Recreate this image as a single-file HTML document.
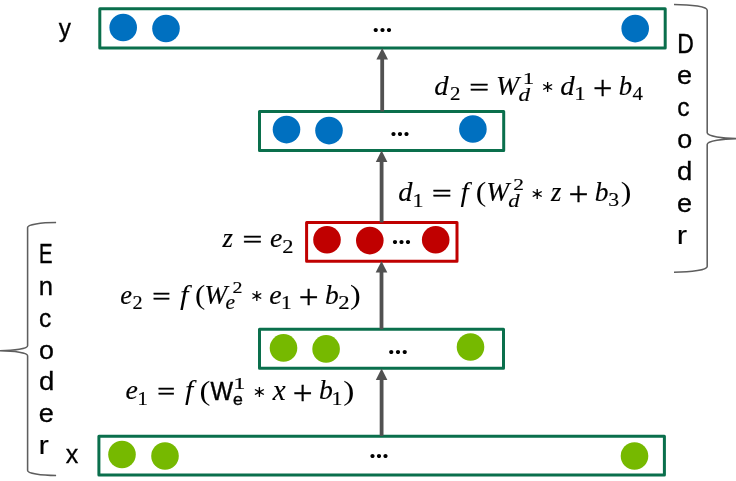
<!DOCTYPE html>
<html lang="en"><head><meta charset="utf-8"><title>Autoencoder</title>
<style>
html,body{margin:0;padding:0;background:#fff;}
body{width:736px;height:481px;overflow:hidden;}
svg{display:block;will-change:transform;}
text{fill:#000;}
.si{font-family:"Liberation Serif",serif;font-style:italic;font-weight:normal;}
.sr{font-family:"Liberation Serif",serif;font-style:normal;font-weight:normal;}
.ss{font-family:"Liberation Sans",sans-serif;font-style:normal;font-weight:normal;}
.sb{font-family:"Liberation Sans",sans-serif;font-style:normal;font-weight:bold;}
.sB{font-family:"Liberation Serif",serif;font-style:normal;font-weight:bold;}
.dj{font-family:"DejaVu Sans",sans-serif;font-style:normal;font-weight:normal;}
</style></head>
<body>
<svg width="736" height="481" viewBox="0 0 736 481">
<rect x="0" y="0" width="736" height="481" fill="#fff"/>
<rect x="99.8" y="8.85" width="565.40" height="39.05" fill="#fff" stroke="#0a6f4c" stroke-width="3.0" stroke-linejoin="round"/>
<rect x="259.5" y="111.5" width="244.20" height="39.00" fill="#fff" stroke="#0a6f4c" stroke-width="3.0" stroke-linejoin="round"/>
<rect x="306.6" y="222.4" width="150.40" height="38.90" fill="#fff" stroke="#c00000" stroke-width="3.0" stroke-linejoin="round"/>
<rect x="259.5" y="329.2" width="244.00" height="39.10" fill="#fff" stroke="#0a6f4c" stroke-width="3.0" stroke-linejoin="round"/>
<rect x="98.9" y="436.2" width="565.50" height="38.80" fill="#fff" stroke="#0a6f4c" stroke-width="3.0" stroke-linejoin="round"/>
<circle cx="123.2" cy="27.5" r="13.8" fill="#0070c0"/>
<circle cx="166" cy="28.5" r="13.8" fill="#0070c0"/>
<circle cx="635.2" cy="28.6" r="13.8" fill="#0070c0"/>
<circle cx="286.5" cy="129.6" r="13.8" fill="#0070c0"/>
<circle cx="329" cy="130.6" r="13.8" fill="#0070c0"/>
<circle cx="472.9" cy="129.0" r="13.8" fill="#0070c0"/>
<circle cx="327" cy="239.7" r="13.8" fill="#c00000"/>
<circle cx="369.8" cy="240.6" r="13.8" fill="#c00000"/>
<circle cx="435.7" cy="239.7" r="13.8" fill="#c00000"/>
<circle cx="283.5" cy="347.9" r="13.8" fill="#76b900"/>
<circle cx="326.1" cy="348.9" r="13.8" fill="#76b900"/>
<circle cx="470.5" cy="347.0" r="13.8" fill="#76b900"/>
<circle cx="122" cy="454.5" r="13.8" fill="#76b900"/>
<circle cx="165" cy="456" r="13.8" fill="#76b900"/>
<circle cx="634.5" cy="456" r="13.8" fill="#76b900"/>
<rect x="380.30" y="58.50" width="3.8" height="53.00" fill="#515151"/>
<polygon points="382.20,48.00 388.00,59.50 376.40,59.50" fill="#515151"/>
<rect x="379.70" y="160.90" width="3.8" height="61.50" fill="#515151"/>
<polygon points="381.60,150.40 387.40,161.90 375.80,161.90" fill="#515151"/>
<rect x="379.60" y="271.50" width="3.8" height="57.70" fill="#515151"/>
<polygon points="381.50,261.00 387.30,272.50 375.70,272.50" fill="#515151"/>
<rect x="379.70" y="378.90" width="3.8" height="57.00" fill="#515151"/>
<polygon points="381.60,368.40 387.40,379.90 375.80,379.90" fill="#515151"/>
<text class="sB" font-size="25.91" x="372.56 379.21 385.86" y="31.73">...</text>
<text class="sB" font-size="25.91" x="390.26 396.76 403.26" y="135.93">...</text>
<text class="sB" font-size="25.91" x="391.86 398.36 404.86" y="243.93">...</text>
<text class="sB" font-size="25.91" x="388.06 394.76 401.46" y="353.53">...</text>
<text class="sB" font-size="25.91" x="369.36 375.86 382.36" y="457.73">...</text>
<path d="M674.00 4.40 A33.20 5.8 0 0 1 707.20 10.20 L707.20 132.80 A33.20 5.8 0 0 0 740.40 138.60 A33.20 5.8 0 0 0 707.20 144.40 L707.20 266.50 A33.20 5.8 0 0 1 674.00 272.30" fill="none" stroke="#5e5e5e" stroke-width="1.55"/>
<path d="M56.10 222.50 A28.50 5 0 0 0 27.60 227.50 L27.60 345.70 A28.50 5 0 0 1 -0.90 350.70 A28.50 5 0 0 1 27.60 355.70 L27.60 470.50 A28.50 5 0 0 0 56.10 475.50" fill="none" stroke="#5e5e5e" stroke-width="1.55"/>
<text><tspan class="ss" x="677.22" y="52.70" font-size="27.04" textLength="16.58" lengthAdjust="spacingAndGlyphs" stroke="#000" stroke-width="0.4">D</tspan><tspan class="ss" x="677.05" y="84.47" font-size="25.83" textLength="15.05" lengthAdjust="spacingAndGlyphs" stroke="#000" stroke-width="0.3">e</tspan><tspan class="ss" x="677.26" y="116.34" font-size="25.83" textLength="12.29" lengthAdjust="spacingAndGlyphs" stroke="#000" stroke-width="0.3">c</tspan><tspan class="ss" x="677.17" y="148.21" font-size="25.83" textLength="14.96" lengthAdjust="spacingAndGlyphs" stroke="#000" stroke-width="0.3">o</tspan><tspan class="ss" x="677.14" y="180.07" font-size="26.62" textLength="15.34" lengthAdjust="spacingAndGlyphs" stroke="#000" stroke-width="0.3">d</tspan><tspan class="ss" x="677.05" y="211.95" font-size="25.83" textLength="15.05" lengthAdjust="spacingAndGlyphs" stroke="#000" stroke-width="0.3">e</tspan><tspan class="ss" x="676.83" y="243.92" font-size="26.02" textLength="10.39" lengthAdjust="spacingAndGlyphs" stroke="#000" stroke-width="0.1">r</tspan></text>
<text><tspan class="ss" x="39.04" y="263.20" font-size="27.04" textLength="13.54" lengthAdjust="spacingAndGlyphs" stroke="#000" stroke-width="0.45">E</tspan><tspan class="ss" x="38.70" y="295.00" font-size="26.02" textLength="14.27" lengthAdjust="spacingAndGlyphs" stroke="#000" stroke-width="0.3">n</tspan><tspan class="ss" x="39.06" y="326.70" font-size="25.83" textLength="12.29" lengthAdjust="spacingAndGlyphs" stroke="#000" stroke-width="0.3">c</tspan><tspan class="ss" x="38.97" y="358.50" font-size="25.83" textLength="14.96" lengthAdjust="spacingAndGlyphs" stroke="#000" stroke-width="0.3">o</tspan><tspan class="ss" x="38.94" y="390.29" font-size="26.62" textLength="15.34" lengthAdjust="spacingAndGlyphs" stroke="#000" stroke-width="0.3">d</tspan><tspan class="ss" x="38.85" y="422.10" font-size="25.83" textLength="15.05" lengthAdjust="spacingAndGlyphs" stroke="#000" stroke-width="0.3">e</tspan><tspan class="ss" x="38.63" y="454.00" font-size="26.02" textLength="10.39" lengthAdjust="spacingAndGlyphs" stroke="#000" stroke-width="0.1">r</tspan></text>
<text class="ss" transform="translate(58.64 37.43) scale(0.926 1)" font-size="26.36" stroke="#000" stroke-width="0.32">y</text>
<text class="ss" transform="translate(65.82 463.00) scale(0.954 1)" font-size="26.31" stroke="#000" stroke-width="0.3">x</text>
<text><tspan class="si" x="434.33" y="94.82" font-size="26.84" textLength="14.30" lengthAdjust="spacingAndGlyphs" stroke="#000" stroke-width="0.15">d</tspan><tspan class="sr" x="449.98" y="100.30" font-size="18.88" textLength="10.48" lengthAdjust="spacingAndGlyphs" stroke="#000" stroke-width="0.15">2</tspan><tspan class="sr" x="469.36" y="95.68" font-size="26.00" textLength="19.75" lengthAdjust="spacingAndGlyphs" stroke="#000" stroke-width="0.5">=</tspan><tspan class="si" x="495.97" y="95.17" font-size="28.36" textLength="23.13" lengthAdjust="spacingAndGlyphs" stroke="#000" stroke-width="0.15">W</tspan><tspan class="sr" x="522.68" y="83.90" font-size="17.72" textLength="11.50" lengthAdjust="spacingAndGlyphs" stroke="#000" stroke-width="0.15">1</tspan><tspan class="si" x="518.40" y="100.90" font-size="19.32" textLength="11.54" lengthAdjust="spacingAndGlyphs" stroke="#000" stroke-width="0.15">d</tspan><tspan class="dj" x="540.70" y="92.30" font-size="15.95" textLength="13.80" lengthAdjust="spacingAndGlyphs">∗</tspan><tspan class="si" x="560.23" y="94.82" font-size="26.84" textLength="14.40" lengthAdjust="spacingAndGlyphs" stroke="#000" stroke-width="0.15">d</tspan><tspan class="sr" x="574.18" y="100.30" font-size="18.93" textLength="11.50" lengthAdjust="spacingAndGlyphs" stroke="#000" stroke-width="0.15">1</tspan><tspan class="sr" x="592.99" y="99.03" font-size="34.56" textLength="19.39" lengthAdjust="spacingAndGlyphs" stroke="#000" stroke-width="0.3">+</tspan><tspan class="si" x="618.80" y="94.84" font-size="26.86" textLength="13.41" lengthAdjust="spacingAndGlyphs" stroke="#000" stroke-width="0.15">b</tspan><tspan class="sr" x="632.49" y="100.30" font-size="18.99" textLength="10.43" lengthAdjust="spacingAndGlyphs" stroke="#000" stroke-width="0.15">4</tspan></text>
<text><tspan class="si" x="398.34" y="201.02" font-size="26.84" textLength="14.19" lengthAdjust="spacingAndGlyphs" stroke="#000" stroke-width="0.15">d</tspan><tspan class="sr" x="412.45" y="206.50" font-size="18.93" textLength="11.08" lengthAdjust="spacingAndGlyphs" stroke="#000" stroke-width="0.15">1</tspan><tspan class="sr" x="432.06" y="201.88" font-size="26.00" textLength="19.75" lengthAdjust="spacingAndGlyphs" stroke="#000" stroke-width="0.5">=</tspan><tspan class="si" x="460.57" y="201.00" font-size="27.26" textLength="8.22" lengthAdjust="spacingAndGlyphs">f</tspan><tspan class="sr" x="475.71" y="201.34" font-size="28.01" textLength="10.50" lengthAdjust="spacingAndGlyphs">(</tspan><tspan class="si" x="486.29" y="201.37" font-size="28.36" textLength="22.93" lengthAdjust="spacingAndGlyphs" stroke="#000" stroke-width="0.15">W</tspan><tspan class="sr" x="513.26" y="190.10" font-size="16.76" textLength="10.73" lengthAdjust="spacingAndGlyphs" stroke="#000" stroke-width="0.15">2</tspan><tspan class="si" x="508.21" y="207.10" font-size="19.32" textLength="11.33" lengthAdjust="spacingAndGlyphs" stroke="#000" stroke-width="0.15">d</tspan><tspan class="dj" x="530.18" y="198.50" font-size="15.95" textLength="13.94" lengthAdjust="spacingAndGlyphs">∗</tspan><tspan class="si" x="551.00" y="201.00" font-size="27.45" textLength="10.35" lengthAdjust="spacingAndGlyphs" stroke="#000" stroke-width="0.15">z</tspan><tspan class="sr" x="568.63" y="205.23" font-size="34.56" textLength="20.00" lengthAdjust="spacingAndGlyphs" stroke="#000" stroke-width="0.3">+</tspan><tspan class="si" x="594.88" y="201.04" font-size="26.86" textLength="13.75" lengthAdjust="spacingAndGlyphs" stroke="#000" stroke-width="0.15">b</tspan><tspan class="sr" x="608.26" y="206.32" font-size="18.60" textLength="10.89" lengthAdjust="spacingAndGlyphs" stroke="#000" stroke-width="0.15">3</tspan><tspan class="sr" x="620.67" y="201.34" font-size="28.01" textLength="10.63" lengthAdjust="spacingAndGlyphs">)</tspan></text>
<text><tspan class="si" x="222.60" y="247.10" font-size="27.45" textLength="10.45" lengthAdjust="spacingAndGlyphs" stroke="#000" stroke-width="0.15">z</tspan><tspan class="sr" x="242.56" y="247.98" font-size="26.00" textLength="19.75" lengthAdjust="spacingAndGlyphs" stroke="#000" stroke-width="0.5">=</tspan><tspan class="si" x="270.04" y="247.13" font-size="27.45" textLength="12.39" lengthAdjust="spacingAndGlyphs" stroke="#000" stroke-width="0.15">e</tspan><tspan class="sr" x="282.21" y="252.60" font-size="18.88" textLength="11.23" lengthAdjust="spacingAndGlyphs" stroke="#000" stroke-width="0.15">2</tspan></text>
<text><tspan class="si" x="120.28" y="303.73" font-size="27.45" textLength="11.82" lengthAdjust="spacingAndGlyphs" stroke="#000" stroke-width="0.15">e</tspan><tspan class="sr" x="132.41" y="309.20" font-size="18.88" textLength="10.10" lengthAdjust="spacingAndGlyphs" stroke="#000" stroke-width="0.15">2</tspan><tspan class="sr" x="152.17" y="304.58" font-size="26.00" textLength="18.42" lengthAdjust="spacingAndGlyphs" stroke="#000" stroke-width="0.5">=</tspan><tspan class="si" x="179.96" y="303.70" font-size="27.26" textLength="8.51" lengthAdjust="spacingAndGlyphs">f</tspan><tspan class="sr" x="194.95" y="304.04" font-size="28.01" textLength="10.24" lengthAdjust="spacingAndGlyphs">(</tspan><tspan class="si" x="204.27" y="304.07" font-size="28.36" textLength="23.13" lengthAdjust="spacingAndGlyphs" stroke="#000" stroke-width="0.15">W</tspan><tspan class="sr" x="232.62" y="292.80" font-size="16.76" textLength="9.98" lengthAdjust="spacingAndGlyphs" stroke="#000" stroke-width="0.15">2</tspan><tspan class="si" x="225.54" y="309.29" font-size="21.00" textLength="9.54" lengthAdjust="spacingAndGlyphs" stroke="#000" stroke-width="0.15">e</tspan><tspan class="dj" x="249.92" y="301.20" font-size="15.95" textLength="13.65" lengthAdjust="spacingAndGlyphs">∗</tspan><tspan class="si" x="269.24" y="303.73" font-size="27.45" textLength="12.39" lengthAdjust="spacingAndGlyphs" stroke="#000" stroke-width="0.15">e</tspan><tspan class="sr" x="281.00" y="309.20" font-size="18.93" textLength="10.79" lengthAdjust="spacingAndGlyphs" stroke="#000" stroke-width="0.15">1</tspan><tspan class="sr" x="298.84" y="307.93" font-size="34.56" textLength="19.88" lengthAdjust="spacingAndGlyphs" stroke="#000" stroke-width="0.3">+</tspan><tspan class="si" x="324.98" y="303.74" font-size="26.86" textLength="13.75" lengthAdjust="spacingAndGlyphs" stroke="#000" stroke-width="0.15">b</tspan><tspan class="sr" x="338.30" y="309.20" font-size="18.88" textLength="11.35" lengthAdjust="spacingAndGlyphs" stroke="#000" stroke-width="0.15">2</tspan><tspan class="sr" x="349.96" y="304.04" font-size="28.01" textLength="10.76" lengthAdjust="spacingAndGlyphs">)</tspan></text>
<text><tspan class="si" x="125.64" y="399.43" font-size="27.45" textLength="12.39" lengthAdjust="spacingAndGlyphs" stroke="#000" stroke-width="0.15">e</tspan><tspan class="sr" x="137.20" y="404.90" font-size="18.93" textLength="10.79" lengthAdjust="spacingAndGlyphs" stroke="#000" stroke-width="0.15">1</tspan><tspan class="sr" x="157.32" y="400.28" font-size="26.00" textLength="17.94" lengthAdjust="spacingAndGlyphs" stroke="#000" stroke-width="0.5">=</tspan><tspan class="si" x="185.06" y="399.40" font-size="27.26" textLength="8.29" lengthAdjust="spacingAndGlyphs">f</tspan><tspan class="sr" x="199.56" y="399.74" font-size="28.01" textLength="10.89" lengthAdjust="spacingAndGlyphs">(</tspan><tspan class="ss" x="210.49" y="399.50" font-size="26.16" textLength="22.59" lengthAdjust="spacingAndGlyphs" stroke="#000" stroke-width="0.45">W</tspan><tspan class="sr" x="233.25" y="388.50" font-size="17.72" textLength="12.21" lengthAdjust="spacingAndGlyphs" stroke="#000" stroke-width="0.15">1</tspan><tspan class="ss" x="232.95" y="404.73" font-size="16.98" textLength="9.84" lengthAdjust="spacingAndGlyphs" stroke="#000" stroke-width="0.4">e</tspan><tspan class="dj" x="252.40" y="396.90" font-size="15.95" textLength="13.80" lengthAdjust="spacingAndGlyphs">∗</tspan><tspan class="si" x="272.65" y="399.70" font-size="28.76" textLength="12.86" lengthAdjust="spacingAndGlyphs" stroke="#000" stroke-width="0.15">x</tspan><tspan class="sr" x="292.84" y="403.63" font-size="34.56" textLength="19.88" lengthAdjust="spacingAndGlyphs" stroke="#000" stroke-width="0.3">+</tspan><tspan class="si" x="318.97" y="399.44" font-size="26.86" textLength="13.87" lengthAdjust="spacingAndGlyphs" stroke="#000" stroke-width="0.15">b</tspan><tspan class="sr" x="331.58" y="404.90" font-size="18.93" textLength="10.94" lengthAdjust="spacingAndGlyphs" stroke="#000" stroke-width="0.15">1</tspan><tspan class="sr" x="343.32" y="399.74" font-size="28.01" textLength="11.15" lengthAdjust="spacingAndGlyphs">)</tspan></text>
</svg>
</body></html>
